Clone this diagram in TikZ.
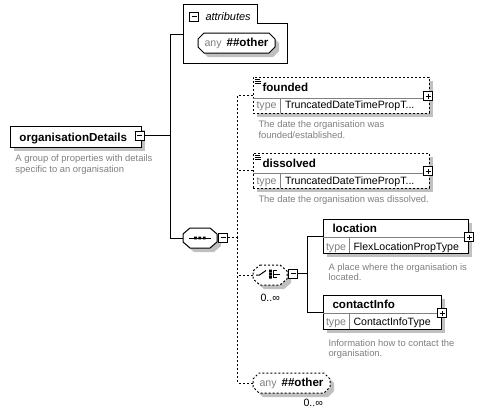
\documentclass[tikz,border=0pt]{standalone}
\usepackage{fontspec}
\setmainfont{Liberation Sans}
\usetikzlibrary{shapes.misc,shadows}
\definecolor{shadowc}{RGB}{192,192,192}
\definecolor{descc}{RGB}{128,128,128}
\definecolor{divc}{RGB}{128,128,128}
\newcommand\fsT{\fontsize{11.6}{13}\selectfont\bfseries}
\newcommand\fsN{\fontsize{10.6}{12}\selectfont}
\newcommand\fsD{\fontsize{9.4}{11}\selectfont}
\newcommand\fsI{\fontsize{11}{12}\selectfont\itshape}
% octagon outline: #1 options, #2 cx, #3 cy, #4 half width, #5 half height, #6 cut x, #7 cut y
\newcommand\octpath[6]{({#1-#3+#5},{#2-#4}) -- ({#1+#3-#5},{#2-#4}) -- ({#1+#3},{#2-#4+#6}) -- ({#1+#3},{#2+#4-#6}) -- ({#1+#3-#5},{#2+#4}) -- ({#1-#3+#5},{#2+#4}) -- ({#1-#3},{#2+#4-#6}) -- ({#1-#3},{#2-#4+#6}) -- cycle}
\newcommand\octshape[7]{%
  \fill[shadowc] \octpath{#2+4}{#3+4}{#4}{#5}{#6}{#7};
  \draw[fill=white,#1] \octpath{#2}{#3}{#4}{#5}{#6}{#7};}
\begin{document}
\begin{tikzpicture}[x=1pt,y=-1pt,line width=1pt,
 shd/.style={drop shadow={shadow xshift=4pt,shadow yshift=-4pt,fill=shadowc,opacity=1}},
 ebox/.style={draw,fill=white,rectangle,inner sep=0pt,shd},
 obox/.style={ebox,dash pattern=on 2pt off 2pt},
 oct/.style={draw,fill=white,chamfered rectangle,inner sep=0pt,shd},
 dsh/.style={dash pattern=on 2pt off 2pt},
 anchorbox/.style={inner sep=0pt,minimum width=34pt,minimum height=20pt},
 pm/.style={draw,fill=white,rectangle,minimum size=9pt,inner sep=0pt,line width=0.8pt},
 minusbox/.style={pm,path picture={\draw[line width=0.8pt] ([xshift=2pt]path picture bounding box.west) -- ([xshift=-2pt]path picture bounding box.east);}},
 plusbox/.style={pm,path picture={\draw[line width=0.8pt] ([xshift=2pt]path picture bounding box.west) -- ([xshift=-2pt]path picture bounding box.east) ([yshift=-2pt]path picture bounding box.north) -- ([yshift=2pt]path picture bounding box.south);}},
 ttl/.style={anchor=base west,inner sep=0pt,font=\fsT},
 typ/.style={anchor=base west,inner sep=0pt,font=\fsN,text=descc},
 val/.style={anchor=base west,inner sep=0pt,font=\fsN},
 dsc/.style={anchor=base west,inner sep=0pt,font=\fsD,text=descc},
 mult/.style={anchor=base west,inner sep=0pt,font=\fsN},
 divl/.style={draw=divc,line width=0.8pt},
 icon/.style={line width=0.7pt},
]
\useasboundingbox[fill=white] (0,0) rectangle (484,416);

% ---- organisationDetails
\node[ebox,minimum width=131pt,minimum height=21pt] (od) at (75.5,136.5) {};
\node[ttl] (odt) at (19,141.5) {organisationDetails};
\node[minusbox] (odm) at (139.5,135.5) {};
\node[dsc] (odd1) at (15,161.7) {A group of properties with details};
\node[dsc] (odd2) at (15,172.7) {specific to an organisation};

% ---- attributes
\node[minimum width=103pt,minimum height=58pt,inner sep=0pt] (attr) at (235.5,34) {};
\draw[fill=white] (attr.north west) -- ++(74,0) -- ++(0,19) -| (attr.south east) -- (attr.south west) -- cycle;
\node[minusbox] (attrm) at (194,16.5) {};
\node[anchor=base west,inner sep=0pt,font=\fsI] (attrt) at (205,20) {attributes};
\node[oct,chamfered rectangle xsep=3pt,chamfered rectangle ysep=3pt,minimum width=77pt,minimum height=20pt] (anya) at (236.5,43)
  {{\fsN\color{descc}any}\hspace{5pt}{\fsT\#\#other}};

% ---- sequence
\octshape{}{200}{238}{17}{10}{7}{6}
\node[anchorbox] (seq) at (200,238) {};
\draw (188.5,238) -- (210.5,238);
\fill (194,236.6) rectangle ++(2.8,2.8) (198.4,236.6) rectangle ++(2.8,2.8) (202.8,236.6) rectangle ++(2.8,2.8);
\node[minusbox] (seqm) at (223,237.5) {};

% ---- founded
\node[obox,minimum width=176pt,minimum height=36pt] (fd) at (341,95) {};
\draw[divl] (253,98) -- (429,98) (280,98) -- (280,113);
\draw[icon] (254.5,79.3) -- ++(5,0) (254.5,81.3) -- ++(6,0) (254.5,83.3) -- ++(6,0);
\node[ttl] (fdt) at (262,91.7) {founded};
\node[typ] (fdy) at (256,108.5) {type};
\node[val] (fdv) at (284.5,108.5) {TruncatedDateTimePropT...};
\node[plusbox] (fdp) at (428,96) {};
\node[dsc] (fdd1) at (258,127.3) {The date the organisation was};
\node[dsc] (fdd2) at (258,138.3) {founded/established.};

% ---- dissolved
\node[obox,minimum width=176pt,minimum height=35pt] (dsv) at (341,170.5) {};
\draw[divl] (253,173) -- (429,173) (280,173) -- (280,188);
\draw[icon] (254.5,155.3) -- ++(5,0) (254.5,157.3) -- ++(6,0) (254.5,159.3) -- ++(6,0);
\node[ttl] (dst) at (262,167.3) {dissolved};
\node[typ] (dsy) at (256,184.3) {type};
\node[val] (dsvv) at (284.5,184.3) {TruncatedDateTimePropT...};
\node[plusbox] (dsp) at (428,171) {};
\node[dsc] (dsd1) at (258,202.7) {The date the organisation was dissolved.};

% ---- choice
\octshape{dsh}{270}{275}{17}{10}{7}{6}
\node[anchorbox] (ch) at (270,275) {};
\draw (256,275) -- (259.5,275) -- (266,270.5);
\fill (269,269.5) rectangle ++(2.8,2.6) (269,272.7) rectangle ++(2.8,2.6) (269,275.9) rectangle ++(2.8,2.6);
\draw[icon] (277,270.8) -- (273.8,270.8) -- (273.8,277.8) -- (277,277.8) (273.8,274.3) -- (280,274.3);
\node[minusbox] (chm) at (293,273.5) {};
\node[mult] (chn) at (260,301.7) {0..∞};

% ---- location
\node[ebox,minimum width=145pt,minimum height=34pt] (loc) at (395.5,236) {};
\draw[divl] (323,237) -- (468,237) (349,237) -- (349,253);
\node[ttl] (loct) at (332,232.7) {location};
\node[typ] (locy) at (325.5,250) {type};
\node[val] (locv) at (353,250) {FlexLocationPropType};
\node[plusbox] (locp) at (469,237) {};
\node[dsc] (locd1) at (328,270) {A place where the organisation is};
\node[dsc] (locd2) at (328,280.7) {located.};

% ---- contactInfo
\node[ebox,minimum width=118pt,minimum height=34pt] (ci) at (382,312) {};
\draw[divl] (323,313) -- (441,313) (349,313) -- (349,329);
\node[ttl] (cit) at (332,308.3) {contactInfo};
\node[typ] (ciy) at (325.5,325.7) {type};
\node[val] (civ) at (353,325.7) {ContactInfoType};
\node[plusbox] (cip) at (442,313) {};
\node[dsc] (cid1) at (328,346) {Information how to contact the};
\node[dsc] (cid2) at (328,356.7) {organisation.};

% ---- any ##other (bottom)
\node[oct,dsh,chamfered rectangle xsep=3pt,chamfered rectangle ysep=3pt,minimum width=77pt,minimum height=20pt] (anyb) at (291.5,383)
  {{\fsN\color{descc}any}\hspace{5pt}{\fsT\#\#other}};
\node[mult] (anyn) at (303,406.7) {0..∞};

% ---- connectors
\draw (odm.east) -- ++(26.5,0) coordinate (j1);
\draw (attr.west) -| (j1) |- (seq.west);
\draw[dsh] (seqm.east) -- ++(10,0) coordinate (j2);
\draw[dsh] (fd.west) -| (j2) |- (anyb.west);
\draw[dsh] (dsv.west) -- (dsv.west -| j2);
\draw[dsh] (ch.west) -- (ch.west -| j2);
\draw (chm.east) -- ++(9.5,0) coordinate (j3);
\draw (loc.west) -| (j3) |- (ci.west);
\end{tikzpicture}
\end{document}
